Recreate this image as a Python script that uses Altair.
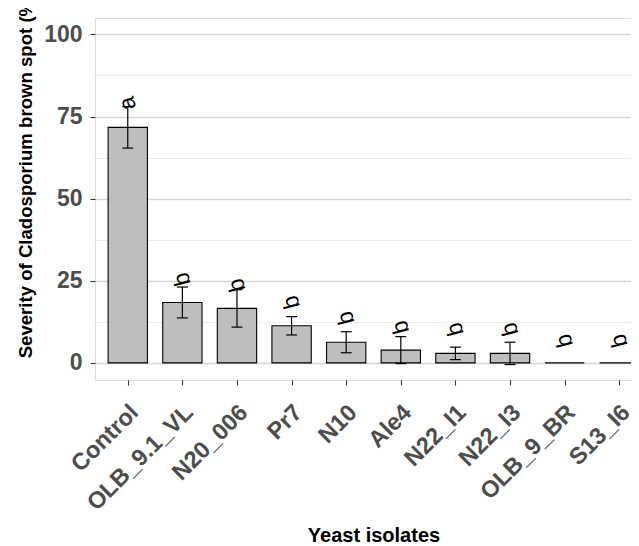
import json
import altair as alt
import pandas as pd

isolates = ["Control", "OLB_9.1_VL", "N20_006", "Pr7", "N10", "Ale4",
            "N22_I1", "N22_I3", "OLB_9_BR", "S13_I6"]
severity = [71.7, 18.4, 16.6, 11.3, 6.3, 3.9, 2.9, 2.9, 0.0, 0.0]
se = [6.3, 4.7, 5.7, 2.8, 3.2, 4.1, 1.9, 3.4, 0.0, 0.0]
letters = ["a", "b", "b", "b", "b", "b", "b", "b", "b", "b"]
letter_y = [79.0, 25.5, 23.7, 18.5, 13.7, 10.9, 10.3, 10.3, 6.8, 6.8]
y_ticks = [0, 12.5, 25, 37.5, 50, 62.5, 75, 87.5, 100]

df = pd.DataFrame({
    "idx": list(range(len(isolates))),
    "isolate": isolates,
    "severity": severity,
    "se": se,
    "letter": letters,
    "letter_y": letter_y,
})

FONT = "Liberation Sans"
names_js = json.dumps(isolates)

xscale = alt.Scale(domain=[-0.6, 9.6], nice=False, zero=False)
yscale = alt.Scale(domain=[-5.2, 105], nice=False, zero=False)

major = "datum.value % 25 === 0"
xaxis = alt.Axis(
    values=list(range(len(isolates))),
    labelExpr=f"{names_js}[datum.value]",
    labelOverlap=False,
    labelAngle=315, labelAlign="right", labelBaseline="top",
    labelPadding=15, labelOffset=-2,
    labelFont=FONT, labelFontSize=23.5, labelFontWeight="bold",
    labelColor="#4D4D4D", tickSize=5, tickColor="#333333", tickWidth=1.1,
    grid=False, domain=False,
    title="Yeast isolates", titleFont=FONT, titleFontSize=20,
    titleFontWeight="bold", titleColor="black",
    titleX=278.5, titleY=161, titleBaseline="alphabetic", titleAlign="center",
)
yaxis = alt.Axis(
    values=y_ticks,
    labelExpr=f"{major} ? datum.label : ''",
    labelFont=FONT, labelFontSize=23, labelFontWeight="bold",
    labelColor="#4D4D4D", labelPadding=8,
    tickSize=5, tickWidth=1.1,
    tickColor={"condition": {"test": major, "value": "#333333"}, "value": "transparent"},
    grid=True,
    gridColor={"condition": {"test": major, "value": "#D6D6D6"}, "value": "#EBEBEB"},
    gridWidth={"condition": {"test": major, "value": 1.4}, "value": 1.0},
    domain=False,
    title="Severity of Cladosporium brown spot (%)", titleFont=FONT,
    titleFontSize=18.6, titleFontWeight="bold", titleColor="black",
    titleAngle=270, titleAlign="center", titleBaseline="middle",
    titleX=-70, titleY=157.5,
)

base = alt.Chart(df).transform_calculate(
    x1="datum.idx - 0.36", x2="datum.idx + 0.36",
    c1="datum.idx - 0.1", c2="datum.idx + 0.1",
    lo="datum.severity - datum.se", hi="datum.severity + datum.se",
    zero="0",
)

bars = base.mark_bar(fill="#BEBEBE", stroke="black", strokeWidth=1.1).encode(
    x=alt.X("x1:Q", scale=xscale, axis=xaxis),
    x2="x2:Q",
    y=alt.Y("zero:Q", scale=yscale, axis=yaxis),
    y2="severity:Q",
)

err = base.mark_rule(color="black", strokeWidth=1.2).encode(
    x=alt.X("idx:Q", scale=xscale, axis=xaxis),
    y=alt.Y("lo:Q", scale=yscale, axis=yaxis),
    y2="hi:Q",
)

cap_hi = base.transform_filter("datum.se > 0").mark_rule(color="black", strokeWidth=1.2).encode(
    x=alt.X("c1:Q", scale=xscale, axis=xaxis),
    x2="c2:Q",
    y=alt.Y("hi:Q", scale=yscale, axis=yaxis),
)
cap_lo = base.transform_filter("datum.se > 0").mark_rule(color="black", strokeWidth=1.2).encode(
    x=alt.X("c1:Q", scale=xscale, axis=xaxis),
    x2="c2:Q",
    y=alt.Y("lo:Q", scale=yscale, axis=yaxis),
)

text = base.mark_text(font=FONT, fontSize=23, color="black", angle=255,
                      align="center", baseline="middle").encode(
    x=alt.X("idx:Q", scale=xscale, axis=xaxis),
    y=alt.Y("letter_y:Q", scale=yscale, axis=yaxis),
    text="letter:N",
)

chart = alt.layer(bars, err, cap_hi, cap_lo, text).properties(
    width=557, height=362,
    autosize=alt.AutoSizeParams(type="none"),
    padding={"left": 87, "top": 10, "right": -21, "bottom": 166},
).configure_view(stroke="black", strokeWidth=1.3).configure(background="white")

chart.save("out.html", embed_options={"renderer": "svg", "actions": False})
